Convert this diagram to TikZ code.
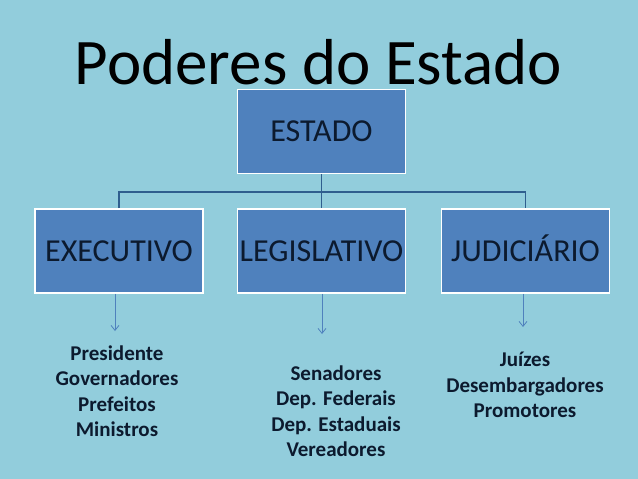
\documentclass[tikz,border=0pt]{standalone}
\usepackage{fontspec}
\setmainfont{Carlito}
\usetikzlibrary{positioning,arrows.meta}
\definecolor{fundoAzul}{HTML}{92CDDC}
\definecolor{caixaAzul}{HTML}{4F81BD}
\definecolor{linhaAzul}{HTML}{2F5E8E}
\definecolor{textoEsc}{HTML}{0C1A2E}
\begin{document}
\begin{tikzpicture}[x=1pt,y=-1pt,
      poder/.style={draw=white, line width=1.6pt, fill=caixaAzul,
                minimum width=168pt, minimum height=84pt, align=center,
                text height=20.5pt, text depth=0pt, inner sep=0pt,
                text=textoEsc, font=\fontsize{32}{36}\selectfont},
      lista/.style={align=center, font=\fontsize{21}{25.5}\selectfont\bfseries,
                text=textoEsc},
      liga/.style={draw=linhaAzul, line width=1.4pt},
      seta/.style={draw=caixaAzul, line width=0.8pt, -{Straight Barb[length=5pt,width=8pt]}}]
    \fill[fundoAzul] (0,0) rectangle (638,479);
    \useasboundingbox (0,0) rectangle (638,479);
    \node[font=\fontsize{65}{70}\selectfont, text=black, anchor=base] (titulo) at (318.5,84) {Poderes do Estado};
    \node[poder] (estado) at (321.5,131.5) {ESTADO};
    \node[poder] (exec) at (119,251) {EXECUTIVO};
    \node[poder] (legis) at (321.5,251) {LEGISLATIVO};
    \node[poder] (judic) at (525.5,251) {JUDICIÁRIO};
    % ligacoes
    \coordinate (barra) at (321.5,192);
    \draw[liga] (estado.south) -- (legis.north);
    \draw[liga] (exec.north) |- (barra) -| (judic.north);
    % setas
    \coordinate (fimE) at (115,331);
    \coordinate (fimL) at (322,334);
    \coordinate (fimJ) at (523,327);
    \draw[seta] (exec.south -| fimE) -- (fimE);
    \draw[seta] (legis.south -| fimL) -- (fimL);
    \draw[seta] (judic.south -| fimJ) -- (fimJ);
    % listas
    \node[lista] (listaE) at (117,391) {Presidente\\Governadores\\Prefeitos\\Ministros};
    \node[lista] (listaL) at (336,411) {Senadores\\Dep. Federais\\Dep. Estaduais\\Vereadores};
    \node[lista] (listaJ) at (525,385) {Juízes\\Desembargadores\\Promotores};
  \end{tikzpicture}
\end{document}
